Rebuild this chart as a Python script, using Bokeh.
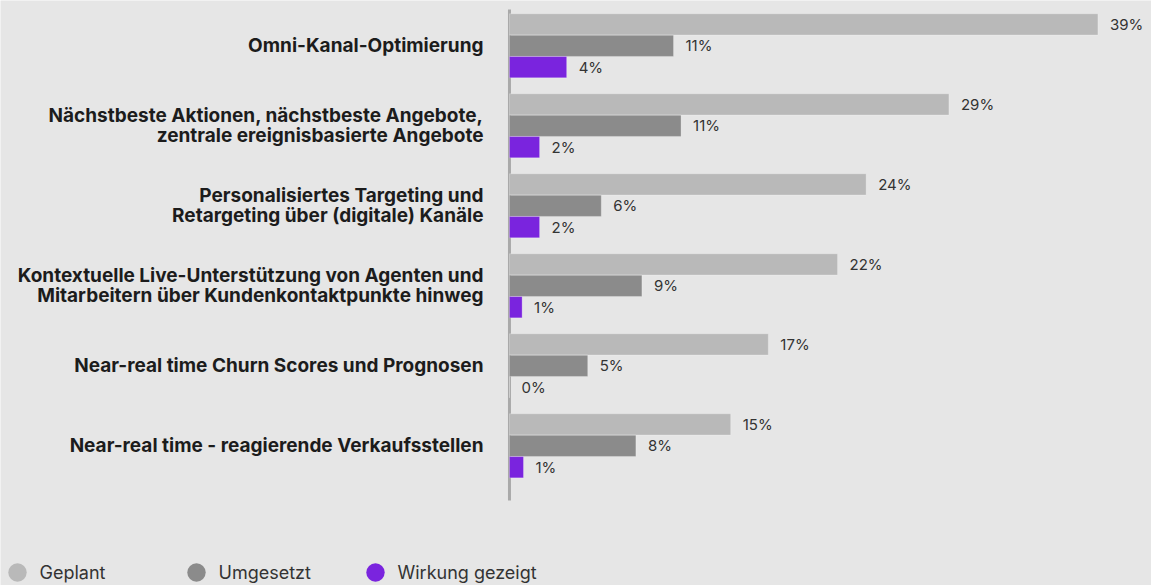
from bokeh.plotting import figure
from bokeh.models import Range1d, Legend, LegendItem, ColumnDataSource
from bokeh.core.properties import value
from bokeh.embed import file_html
from bokeh.resources import INLINE

# ---------------- data ----------------
categories = [
    "Omni-Kanal-Optimierung",
    "Nächstbeste Aktionen, nächstbeste Angebote,\nzentrale ereignisbasierte Angebote",
    "Personalisiertes Targeting und\nRetargeting über (digitale) Kanäle",
    "Kontextuelle Live-Unterstützung von Agenten und\nMitarbeitern über Kundenkontaktpunkte hinweg",
    "Near-real time Churn Scores und Prognosen",
    "Near-real time - reagierende Verkaufsstellen",
]
geplant = [39.1, 29.2, 23.7, 21.8, 17.2, 14.7]
umgesetzt = [10.9, 11.4, 6.1, 8.8, 5.2, 8.4]
wirkung = [3.8, 2.0, 2.0, 0.84, 0.0, 0.93]
series_names = ["Geplant", "Umgesetzt", "Wirkung gezeigt"]

# ---------------- styling ----------------
colors = ["#b9b9b9", "#8b8b8b", "#7a24de"]
BG = "#e6e6e6"
FONT = "Inter"
W, H = 1151, 585
n = len(categories)
nan = float("nan")

p = figure(width=W, height=H, output_backend="svg", toolbar_location=None,
           x_range=Range1d(-33.82, 42.66), y_range=Range1d(6.746, -0.566),
           x_axis_location=None, y_axis_location=None,
           min_border=0)
p.background_fill_color = BG
p.border_fill_color = BG
p.outline_line_color = None
p.grid.visible = False

# category axis line at zero, spanning the groups
p.segment(x0=[0], y0=[-0.454], x1=[0], y1=[n - 0.316],
          line_color="#a9a9a9", line_width=3, level="underlay")

idx = list(range(n))
offsets = [-0.2675, 0.0, 0.2675]
for vals, off, col in zip([geplant, umgesetzt, wirkung], offsets, colors):
    src = ColumnDataSource(dict(
        y=[i + off for i in idx],
        right=vals,
        label=[f"{round(v)}%" for v in vals],
    ))
    p.hbar(y="y", left=0, right="right", height=0.266, source=src,
           fill_color=col, line_color="white", line_alpha=0.25, line_width=1)
    p.text(x="right", y="y", text="label", source=src, x_offset=12,
           text_baseline="middle", text_align="left",
           text_font=value(FONT), text_font_size="15px", text_color="#333333")

# category labels
p.text(x=[0] * n, y=idx, text=categories,
       text_align="right", text_baseline="middle", x_offset=-26,
       text_font=value(FONT), text_font_style="bold", text_font_size="19px",
       text_color="#1c1c1c", text_line_height=0.87)

# legend (circle markers; the markers themselves carry no visible data)
items = []
for col, name in zip(colors, series_names):
    r = p.scatter(x=[nan], y=[nan], marker="circle", size=19, fill_color=col, line_color=None)
    items.append(LegendItem(label=name, renderers=[r]))
legend = Legend(items=items, location=(-6.5, -12), orientation="horizontal",
                glyph_width=46, glyph_height=50, label_standoff=0,
                label_width=133, spacing=0, padding=0, margin=0,
                border_line_color=None, background_fill_alpha=0,
                label_text_font=FONT, label_text_font_size="18px",
                label_text_color="#333333")
p.add_layout(legend, "center")

html = file_html(p, INLINE, title="chart")
html = html.replace("<body>", '<body style="margin:0;background:#e6e6e6;overflow:hidden;">', 1)
open("out.html", "w").write(html)
